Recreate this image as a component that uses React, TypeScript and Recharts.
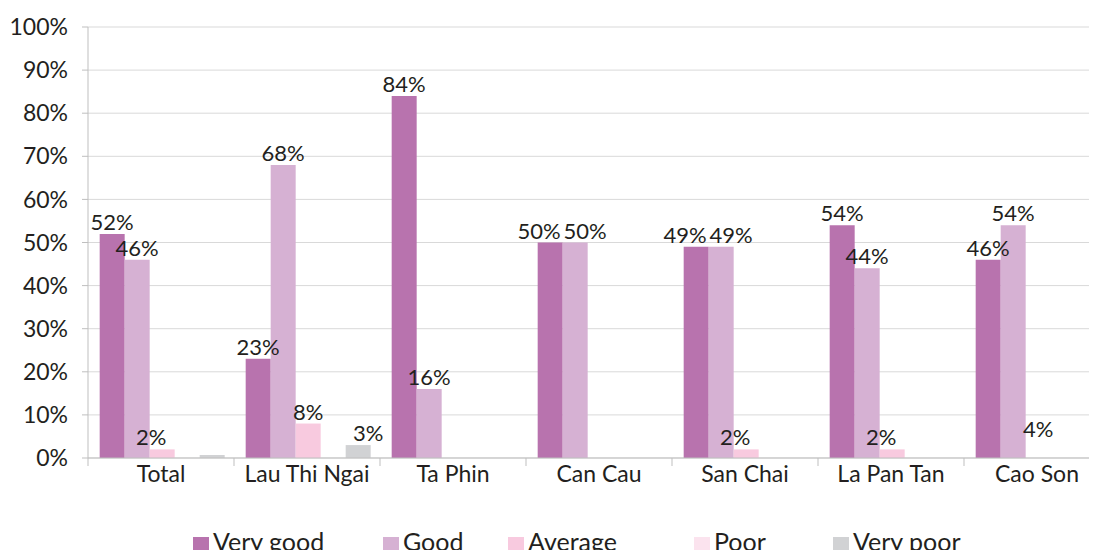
import { Bar, BarChart, CartesianGrid, Cell, LabelList, Legend, XAxis, YAxis } from 'recharts';

const communes = ['Total', 'Lau Thi Ngai', 'Ta Phin', 'Can Cau', 'San Chai', 'La Pan Tan', 'Cao Son'];
const veryGood = [52, 23, 84, 50, 49, 54, 46];
const good = [46, 68, 16, 50, 49, 44, 54];
const average = [2, 8, 0, 0, 2, 2, 4];
const poor = [0, 0, 0, 0, 0, 0, 0];
const veryPoor = [0.7, 3, 0, 0, 0, 0, 0];
const yTicks = [0, 10, 20, 30, 40, 50, 60, 70, 80, 90, 100];

// the Cao Son "Average" bar has a label but no visible fill in the source
const hiddenAverage = ['Cao Son'];

const series = [
  { key: 'veryGood', name: 'Very good', color: '#b873ae', values: veryGood },
  { key: 'good', name: 'Good', color: '#d6b1d3', values: good },
  { key: 'average', name: 'Average', color: '#f8cadf', values: average },
  { key: 'poor', name: 'Poor', color: '#fbe3ee', values: poor },
  { key: 'veryPoor', name: 'Very poor', color: '#d1d2d4', values: veryPoor },
];
const legendLeft = [185, 375, 500, 686, 825];

const data = communes.map((name, i) => ({
  name,
  veryGood: veryGood[i],
  good: good[i],
  average: average[i],
  poor: poor[i],
  veryPoor: veryPoor[i],
}));

const FONT = 'Lato, sans-serif';
const TEXT = '#231f20';
const AXIS = '#bfbfbf';
const CHART_W = 1110;
const CHART_H = 580;
const PLOT_LEFT = 80;
const PLOT_RIGHT = 8;
const LEGEND_H = 34;
const STEP = (CHART_W - PLOT_LEFT - PLOT_RIGHT) / communes.length;

const CategoryTick = (props: any) => {
  const { x, y, payload } = props;
  return (
    <g>
      <line x1={x - STEP / 2} x2={x - STEP / 2} y1={y - 8} y2={y} stroke={AXIS} />
      <text x={x} y={y + 16} textAnchor="middle" fill={TEXT} fontSize={23} fontFamily={FONT}>
        {payload.value}
      </text>
    </g>
  );
};

// nudge a label sideways when the neighbouring bar's label sits at the same height
const makeLabel = (seriesIndex: number) => (props: any) => {
  const { x, y, width, value, index } = props;
  if (!value || value < 1) return null;
  let dx = 0;
  const prev = series[seriesIndex - 1]?.values[index];
  const next = series[seriesIndex + 1]?.values[index];
  if (next !== undefined && Math.abs(next - value) < 4) dx -= 11;
  if (prev !== undefined && Math.abs(prev - value) < 4) dx += 10;
  return (
    <text x={x + width / 2 + dx} y={y - 4} textAnchor="middle" fill={TEXT} fontSize={22} fontFamily={FONT}>
      {`${Math.round(value)}%`}
    </text>
  );
};

const renderLegend = () => (
  <div style={{ position: 'relative', width: CHART_W, height: LEGEND_H, fontFamily: FONT, fontSize: 25, color: TEXT }}>
    {series.map((s, i) => (
      <div key={s.key} style={{ position: 'absolute', left: legendLeft[i], top: 0, whiteSpace: 'nowrap', lineHeight: '30px' }}>
        <span style={{ display: 'inline-block', width: 16, height: 16, background: s.color, marginRight: 4, verticalAlign: '-2px' }} />
        <span>{s.name}</span>
      </div>
    ))}
  </div>
);

export default function App() {
  return (
    <div style={{ width: 1089, height: 542, overflow: 'hidden' }}>
      <BarChart
        width={CHART_W}
        height={CHART_H}
        data={data}
        margin={{ top: 19, right: PLOT_RIGHT, bottom: 0, left: 0 }}
        barCategoryGap="8%"
        barGap={0}
      >
        <CartesianGrid vertical={false} stroke="#d9d9d9" />
        <XAxis
          dataKey="name"
          tickLine={false}
          axisLine={{ stroke: AXIS }}
          tick={<CategoryTick />}
          interval={0}
          height={CHART_H - LEGEND_H - 450}
        />
        <YAxis
          width={PLOT_LEFT}
          domain={[0, 100]}
          ticks={yTicks}
          tickFormatter={(v) => `${v}%`}
          axisLine={{ stroke: AXIS }}
          tickLine={{ stroke: AXIS }}
          tickSize={6}
          tickMargin={14}
          tick={{ fill: TEXT, fontSize: 23, fontFamily: FONT }}
        />
        <Legend content={renderLegend} wrapperStyle={{ top: 518, left: 0, height: LEGEND_H }} />
        {series.map((s, si) => (
          <Bar key={s.key} dataKey={s.key} name={s.name} fill={s.color} isAnimationActive={false}>
            {s.key === 'average' &&
              data.map((d) => (
                <Cell key={d.name} fill={hiddenAverage.includes(d.name) ? 'transparent' : s.color} />
              ))}
            <LabelList dataKey={s.key} content={makeLabel(si)} />
          </Bar>
        ))}
      </BarChart>
    </div>
  );
}
